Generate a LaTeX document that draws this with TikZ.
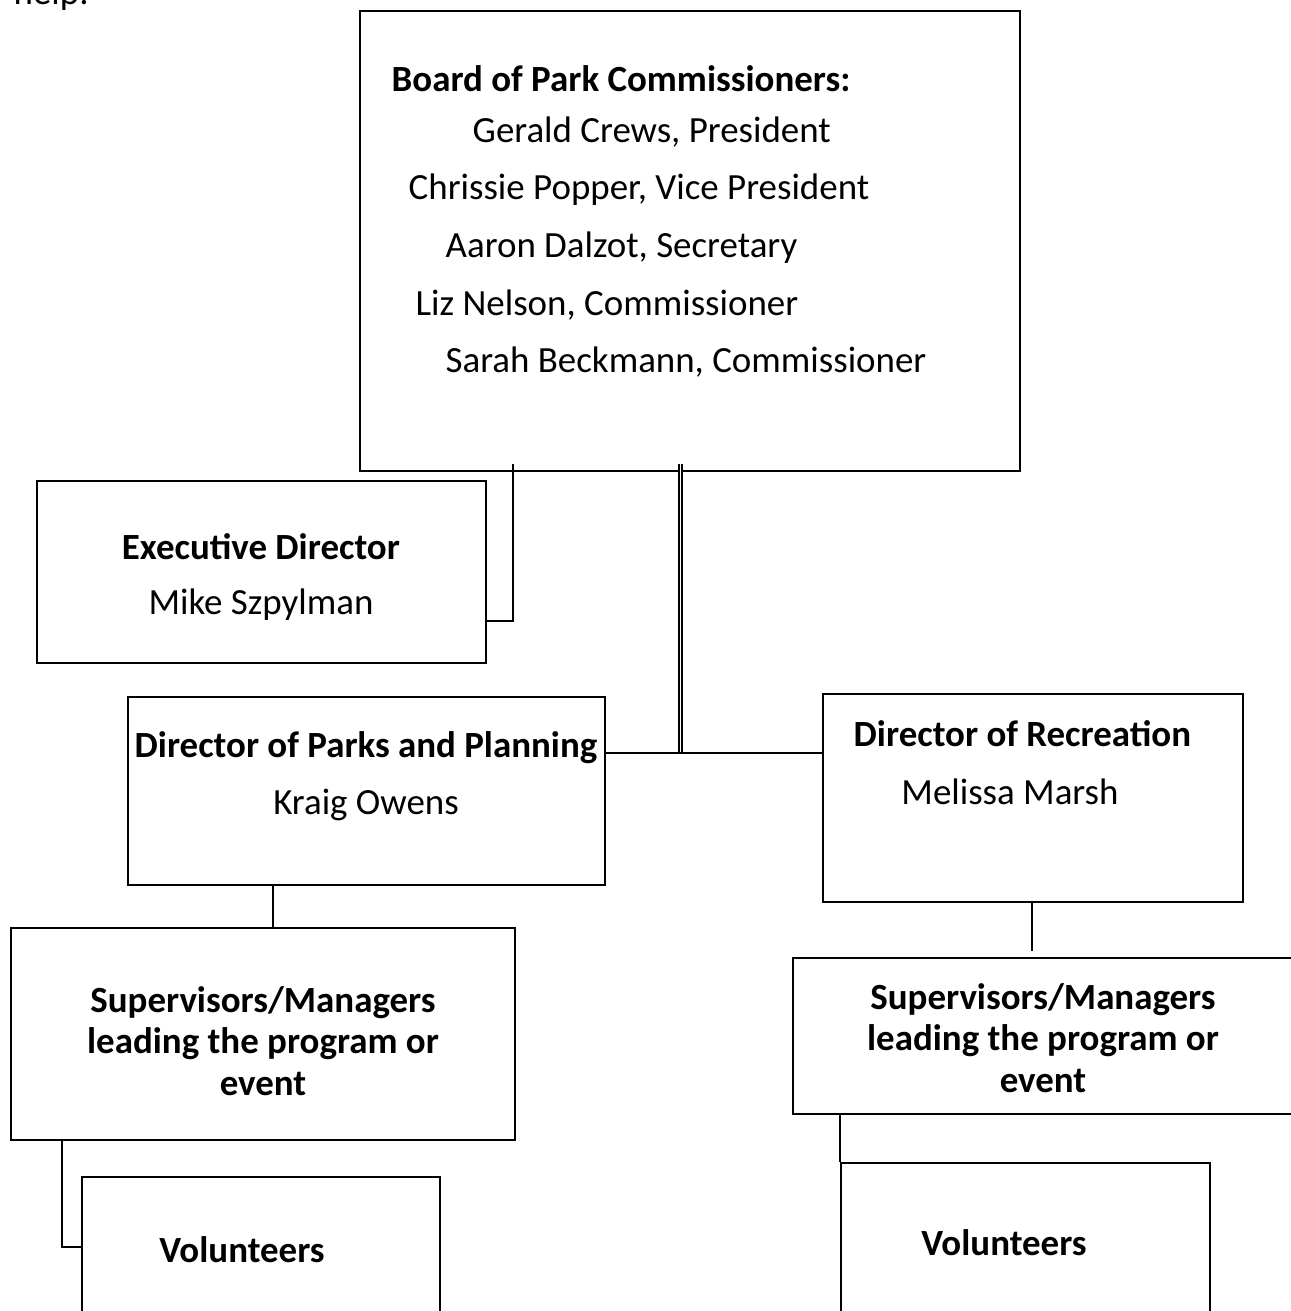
\documentclass[tikz,border=0pt]{standalone}
\usepackage{fontspec}
\setmainfont{Carlito}
\begin{document}
\begin{tikzpicture}[x=0.01cm,y=-0.01cm,
  box/.style={draw=black,line width=0.6pt,inner sep=0pt,rectangle},
  conn/.style={draw=black,line width=0.6pt},
  dbl/.style={draw=black,double=white,line width=0.4pt,double distance=0.4pt},
  txt/.style={inner sep=0pt,font=\fontsize{10.5}{11.8}\selectfont},
  btxt/.style={inner sep=0pt,font=\fontsize{10.5}{11.8}\selectfont\bfseries},
  ]
\useasboundingbox (0,0) rectangle (1291,1311);
\clip (0,0) rectangle (1291,1311);

% cropped text at top
\node[txt,anchor=base west] (help) at (13,4) {help.};

% boxes
\node[box,minimum width=6.6cm,minimum height=4.6cm] (board) at (690,241) {};
\node[box,minimum width=4.49cm,minimum height=1.82cm] (exec) at (261.5,572) {};
\node[box,minimum width=4.77cm,minimum height=1.88cm] (parks) at (366.5,791) {};
\node[box,minimum width=4.2cm,minimum height=2.08cm] (rec) at (1033,798) {};
\node[box,minimum width=5.04cm,minimum height=2.12cm] (supL) at (263,1034) {};
\node[box,minimum width=5.17cm,minimum height=1.56cm] (supR) at (1051.5,1036) {};
\node[box,minimum width=3.58cm,minimum height=1.63cm] (volL) at (261,1258.5) {};
\node[box,minimum width=3.69cm,minimum height=1.77cm] (volR) at (1025.5,1251.5) {};

% board texts
\node[btxt,anchor=west] (b0) at (391,79) {Board of Park Commissioners:};
\node[txt,anchor=west] (b1) at (472,132) {Gerald Crews, President};
\node[txt,anchor=west] (b2) at (408,190) {Chrissie Popper, Vice President};
\node[txt,anchor=west] (b3) at (445,248) {Aaron Dalzot, Secretary};
\node[txt,anchor=west] (b4) at (415,305) {Liz Nelson, Commissioner};
\node[txt,anchor=west] (b5) at (445,362) {Sarah Beckmann, Commissioner};

% executive
\node[btxt] (e0) at (261,547) {Executive Director};
\node[txt] (e1) at (261,605) {Mike Szpylman};

% parks
\node[btxt] (p0) at (366,748) {Director of Parks and Planning};
\node[txt] (p1) at (366,805) {Kraig Owens};

% recreation
\node[btxt,anchor=west] (r0) at (853,734) {Director of Recreation};
\node[txt] (r1) at (1010,792) {Melissa Marsh};

% supervisors
\node[btxt,align=center] (sl) at (263,1041) {Supervisors/Managers\\leading the program or\\event};
\node[btxt,align=center] (sr) at (1043,1038) {Supervisors/Managers\\leading the program or\\event};

% volunteers
\node[btxt] (vl) at (242,1250) {Volunteers};
\node[btxt] (vr) at (1004,1243) {Volunteers};

% connectors
\coordinate (t1) at (513,464);
\coordinate (k1) at (513,621);
\draw[conn] (t1) -- (k1) -- (k1 -| exec.east);

\coordinate (t2) at (680.5,464);
\coordinate (h) at (680.5,753);
\draw[dbl] (t2) -- (h);
\draw[conn] (h -| parks.east) -- (h -| rec.west);

\coordinate (c3) at (273,0);
\draw[conn] (c3 |- parks.south) -- (c3 |- supL.north);

\coordinate (c4) at (62,1247);
\draw[conn] (c4 |- supL.south) -- (c4) -- (c4 -| volL.west);

\coordinate (c5) at (1032,951);
\draw[conn] (c5 |- rec.south) -- (c5);

\draw[conn] (volR.north west |- supR.south) -- (volR.north west);
\end{tikzpicture}
\end{document}
